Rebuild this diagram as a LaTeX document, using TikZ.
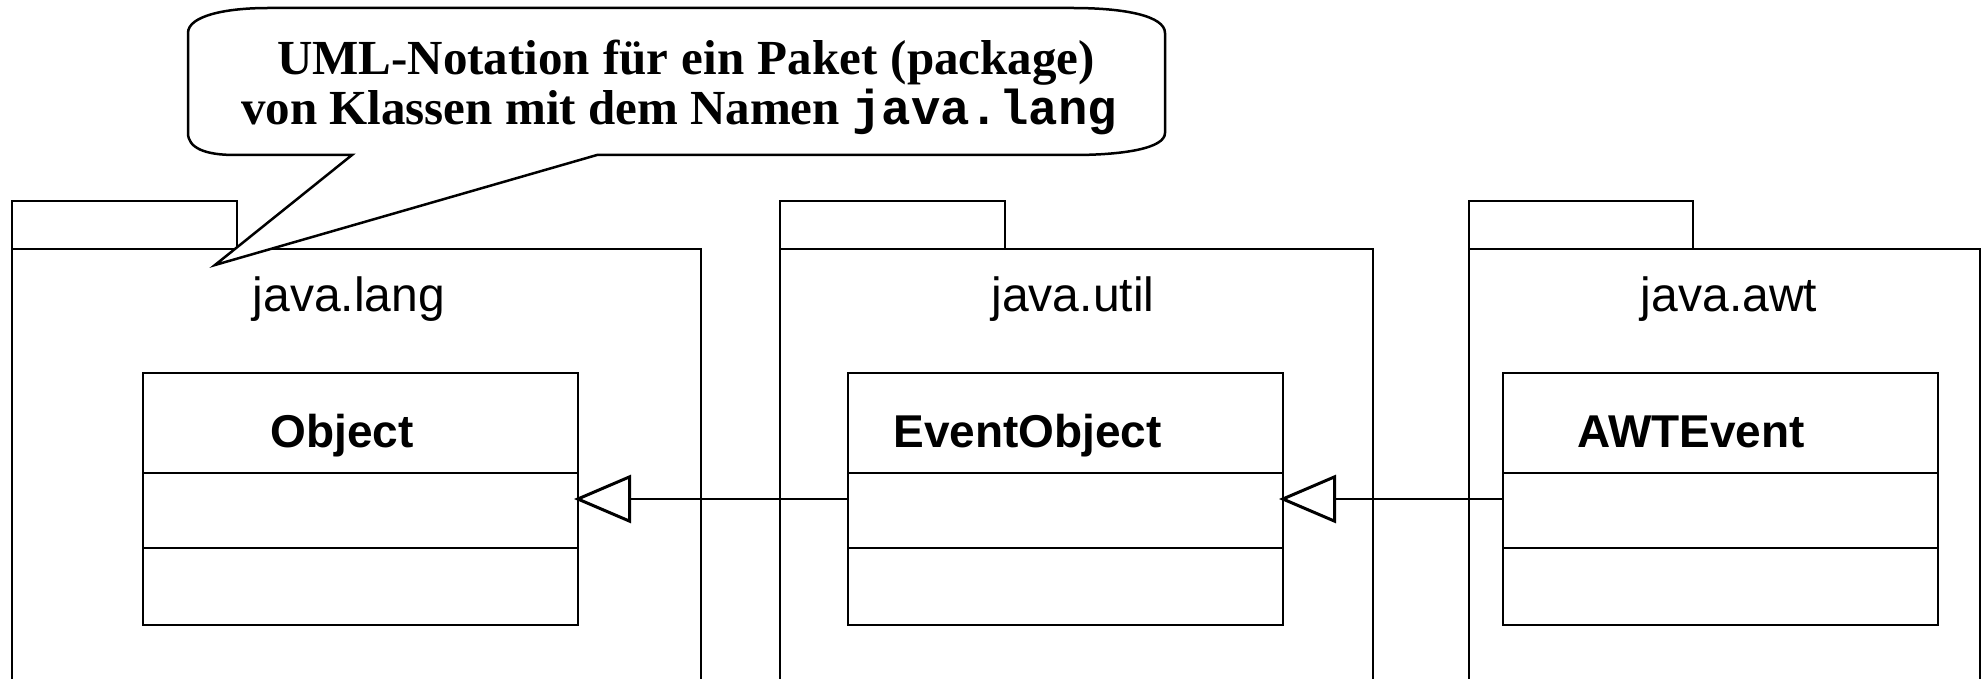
\documentclass[tikz,border=0pt]{standalone}
\usepackage{fontspec}
\setmainfont{Liberation Sans}
\newfontfamily\calloutfont{Liberation Serif}
\newfontfamily\calloutmono{Liberation Mono}
\usetikzlibrary{arrows.meta,calc}

\begin{document}
\begin{tikzpicture}[x=0.5pt,y=-0.5pt,
  pkgbody/.style={line width=0.6pt},
  pkgtab/.style={line width=1.1pt},
  pkgname/.style={font=\fontsize{24}{28}\selectfont, anchor=base, inner sep=0pt},
  classbox/.style={draw, line width=1pt, minimum width=217.5pt, minimum height=126pt, inner sep=0pt},
  classname/.style={font=\fontsize{23}{27}\selectfont\bfseries, anchor=base west, inner sep=0pt},
  divider/.style={line width=1pt},
  inherit/.style={line width=0.75pt, shorten >=-2.5pt,
    -{Triangle[open, length=28.5pt, width=24pt, line width=1.5pt]}},
  callout/.style={draw, fill=white, line width=1.25pt, line join=miter},
  callouttext/.style={font=\calloutfont\fontsize{24.5}{21}\selectfont\bfseries, anchor=base, inner sep=0pt}
]
\useasboundingbox (0,0) rectangle (1982,679);
\clip (0,0) rectangle (1982,679);

% package frames: tab plus body (body runs past the lower edge)
\draw[pkgbody] (12,700) -- (12,249) -- (701,249) -- (701,700);
\draw[pkgtab] (12,201) rectangle (237,249);
\draw[pkgbody] (780,700) -- (780,249) -- (1373,249) -- (1373,700);
\draw[pkgtab] (780,201) rectangle (1005,249);
\draw[pkgbody] (1469,700) -- (1469,249) -- (1980,249) -- (1980,700);
\draw[pkgtab] (1469,201) rectangle (1693,249);

% package names
\node[pkgname] (langname) at (349,312) {java.lang};
\node[pkgname] (utilname) at (1073,312) {java.util};
\node[pkgname] (awtname)  at (1729,312) {java.awt};

% classes with three compartments
\node[classbox] (obj) at (360.5,499) {};
\node[classbox] (evt) at (1065.5,499) {};
\node[classbox] (awt) at (1720.5,499) {};
\foreach \c in {obj,evt,awt}{
  \draw[divider] ([yshift=-50.5pt]\c.north west) -- ([yshift=-50.5pt]\c.north east);
  \draw[divider] ([yshift=-88pt]\c.north west) -- ([yshift=-88pt]\c.north east);
}
\node[classname] (objname) at (270,447) {Object};
\node[classname] (evtname) at (893,447) {EventObject};
\node[classname] (awtcname) at (1577,447) {AWTEvent};

% generalisation arrows
\draw[inherit] (evt.west) -- (obj.east);
\draw[inherit] (awt.west) -- (evt.east);

% speech bubble pointing at the package
\draw[callout]
  (188,33) .. controls (188,16) and (225,8) .. (268,8)
  -- (1073,8) .. controls (1125,8) and (1165,16) .. (1165,33)
  -- (1165,133) .. controls (1165,148) and (1125,155) .. (1073,155)
  -- (597,155) -- (215,265) -- (352,155)
  -- (235,155) .. controls (205,155) and (188,148) .. (188,133)
  -- cycle;
\node[callouttext] (line1) at (686,75) {UML-Notation\hspace{0.5pt} für\hspace{0.5pt} ein\hspace{0.5pt} Paket\hspace{0.5pt} (package)};
\node[callouttext] (line2) at (679,125) {von Klassen mit dem Namen {\calloutmono\bfseries java.lang}};
\end{tikzpicture}
\end{document}
